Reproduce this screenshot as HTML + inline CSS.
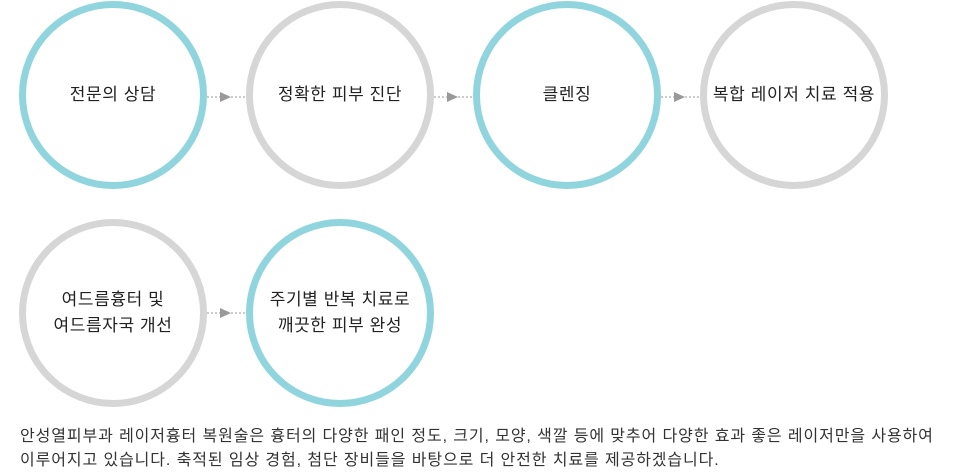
<!DOCTYPE html>
<html><head><meta charset="utf-8"><style>
body{margin:0;width:960px;height:471px;background:#fff;position:relative;overflow:hidden;font-family:"Liberation Sans","Noto Sans CJK KR",sans-serif;}
.c{position:absolute;width:174px;height:174px;border:7px solid #d6d6d6;border-radius:50%;display:flex;align-items:center;justify-content:center;text-align:center;font-size:17px;letter-spacing:0.6px;color:#222;line-height:26px;}
.b{border-color:#90d5dd;}
.a{position:absolute;width:38px;height:10px;}
.a:before{content:"";position:absolute;left:0;right:0;top:4px;border-top:2px dotted #ccc;}
.a:after{content:"";position:absolute;left:13px;top:0;border-left:11px solid #999;border-top:5px solid transparent;border-bottom:5px solid transparent;}
.t{position:absolute;left:20px;top:425px;font-size:16px;letter-spacing:0.9px;color:#333;line-height:24px;white-space:nowrap;}
</style></head><body>
<div class="c b" style="left:19px;top:1px">전문의 상담</div>
<div class="c" style="left:246px;top:1px">정확한 피부 진단</div>
<div class="c b" style="left:473px;top:1px">클렌징</div>
<div class="c" style="left:700px;top:1px">복합 레이저 치료 적용</div>
<div class="c" style="left:19px;top:219px">여드름흉터 및<br>여드름자국 개선</div>
<div class="c b" style="left:246px;top:219px">주기별 반복 치료로<br>깨끗한 피부 완성</div>
<div class="a" style="left:207px;top:92px"></div>
<div class="a" style="left:434px;top:92px"></div>
<div class="a" style="left:661px;top:92px"></div>
<div class="a" style="left:207px;top:308px"></div>
<div class="t">안성열피부과 레이저흉터 복원술은 흉터의 다양한 패인 정도, 크기, 모양, 색깔 등에 맞추어 다양한 효과 좋은 레이저만을 사용하여<br>이루어지고 있습니다. 축적된 임상 경험, 첨단 장비들을 바탕으로 더 안전한 치료를 제공하겠습니다.</div>
</body></html>
